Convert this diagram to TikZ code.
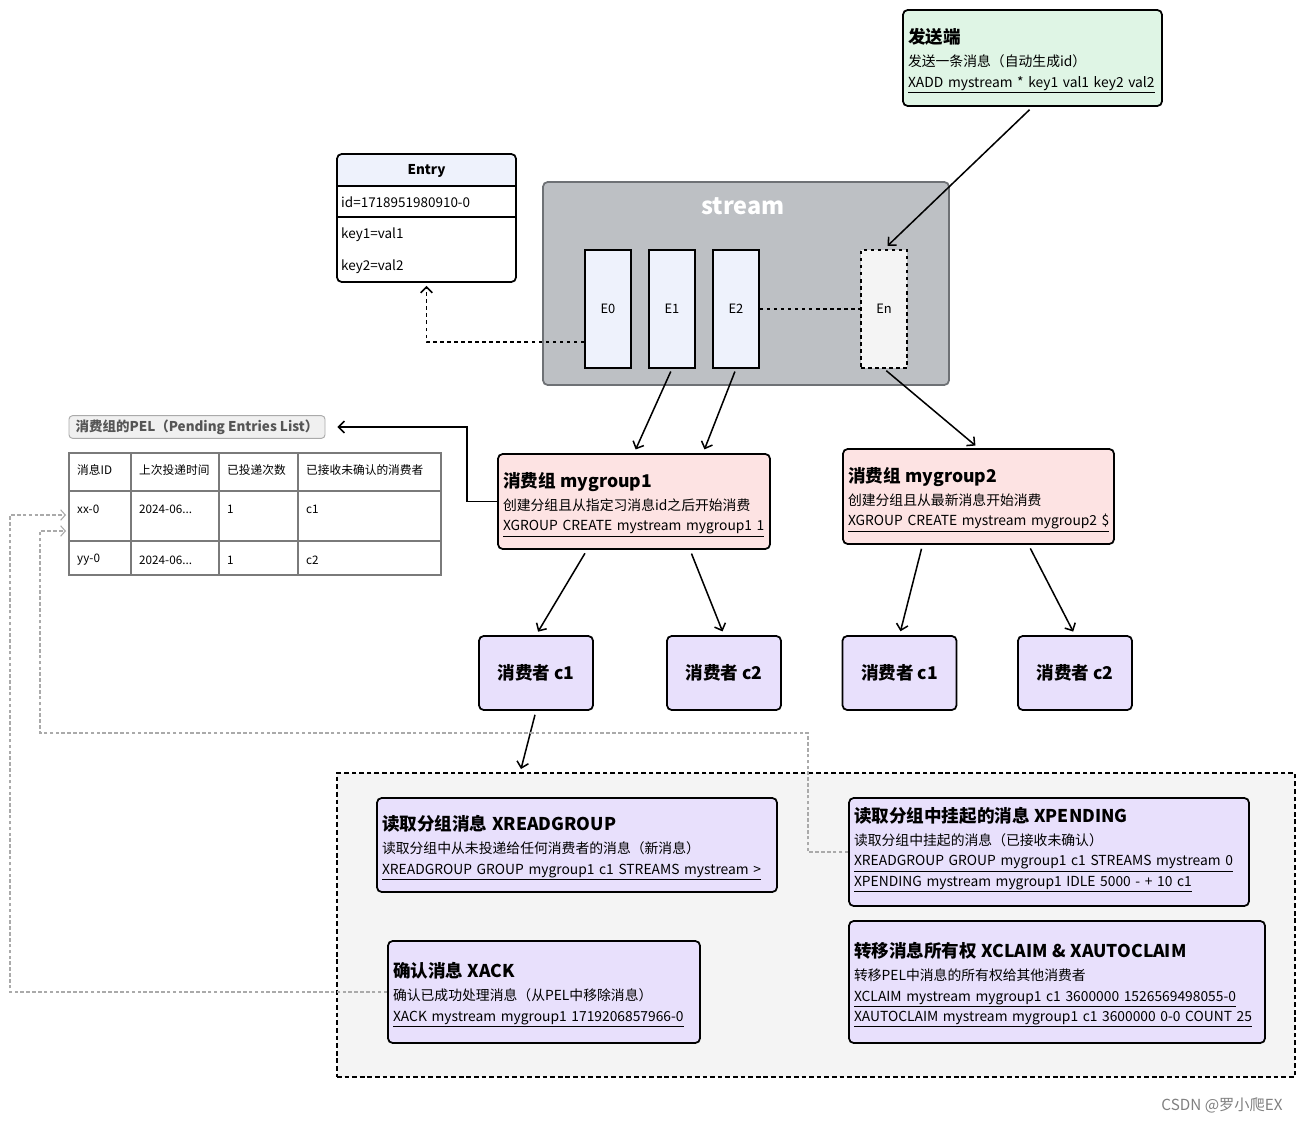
\documentclass[tikz,border=0pt]{standalone}
\usepackage{fontspec}
\setmainfont{Noto Sans CJK SC}
\usetikzlibrary{arrows.meta,positioning}
\newdimen\pxu \pxu=0.03cm
\definecolor{sendgreen}{HTML}{DFF5E5}
\definecolor{entryblue}{HTML}{EEF2FC}
\definecolor{streamgray}{HTML}{BDC0C4}
\definecolor{streamedge}{HTML}{6E7175}
\definecolor{groupred}{HTML}{FDE3E3}
\definecolor{userpurple}{HTML}{E8E0FC}
\definecolor{areagray}{HTML}{F4F4F4}
\definecolor{pelgray}{HTML}{F0F0F0}
\definecolor{peltext}{HTML}{555555}
\definecolor{tablegray}{HTML}{7A7A7A}
\definecolor{linkgray}{HTML}{AAAAAA}
\newcommand\cardtitle[1]{{\bfseries\fontsize{15}{17.5}\selectfont #1}\\[2pt]}
\newcommand\codeline[1]{\smash{\underline{#1}}}
\newcommand\timecut{2024-06.{}.{}.}
\tikzset{
  card/.style={draw, line width=1.5pt, rounded corners=4pt, align=left, inner xsep=5\pxu, inner ysep=0pt,
    font=\fontsize{11.8}{17.5}\selectfont},
  user/.style={draw, line width=1.5pt, rounded corners=4pt, fill=userpurple, minimum width=114\pxu,
    minimum height=74\pxu, font=\bfseries\fontsize{15}{18}\selectfont},
  cell/.style={draw, line width=1.3pt, fill=entryblue, minimum width=46\pxu, minimum height=118\pxu,
    font=\fontsize{11}{13}\selectfont},
  arr/.style={line width=1.3pt, -{Straight Barb[length=5pt, width=10pt]}},
  link/.style={linkgray, line width=0.9pt, dash pattern=on 3pt off 2pt, -{Straight Barb[length=4pt, width=9pt]}},
  tabletext/.style={anchor=west, inner sep=0pt, font=\fontsize{10}{12}\selectfont}
}
\begin{document}
\begin{tikzpicture}[x=0.03cm, y=-0.03cm]
    \fill[white] (0,0) rectangle (1305,1123);
    \useasboundingbox (0,0) rectangle (1305,1123);

    \node[card, fill=sendgreen, minimum width=259\pxu, minimum height=96\pxu, text width=249\pxu] (sender) at (1032.5,58)
      {\cardtitle{发送端}发送一条消息（自动生成id）\\\codeline{XADD mystream * key1 val1 key2 val2}};

    \node[draw, line width=1.5pt, rounded corners=4pt, fill=white, minimum width=179\pxu, minimum height=128\pxu,
      path picture={\fill[entryblue] (path picture bounding box.north west) rectangle ([yshift=-33\pxu]path picture bounding box.north east);}]
      (entry) at (426.5,218) {};
    \draw[line width=1.5pt] ([yshift=-33\pxu]entry.north west) -- ([yshift=-33\pxu]entry.north east);
    \draw[line width=1.5pt] ([yshift=-64\pxu]entry.north west) -- ([yshift=-64\pxu]entry.north east);
    \node[font=\bfseries\fontsize{11.5}{14}\selectfont] (entryhead) at (426.5,171) {Entry};
    \node[anchor=west, inner sep=0pt, font=\fontsize{11.5}{14}\selectfont] (entryid) at (341,202) {id=1718951980910-0};
    \node[anchor=west, inner sep=0pt, font=\fontsize{11.5}{14}\selectfont] (entryk1) at (341,235) {key1=val1};
    \node[anchor=west, inner sep=0pt, font=\fontsize{11.5}{14}\selectfont] (entryk2) at (341,267) {key2=val2};

    \node[draw=streamedge, line width=1.5pt, fill=streamgray, rounded corners=4pt, minimum width=406\pxu,
      minimum height=203\pxu] (stream) at (746,283.5) {};
    \node[text=white, font=\bfseries\fontsize{20}{24}\selectfont] (streamname) at (743,206) {stream};
    \foreach \i/\x in {0/608,1/672,2/736}
      \node[cell] (e\i) at (\x,309) {E\i};
    \node[cell, dashed, fill=areagray] (en) at (884,309) {En};

    \draw[arr, shorten <=4\pxu, shorten >=5\pxu] (sender.south) -- (en.north);
    \draw[arr, dashed, shorten >=3\pxu] ([yshift=-33\pxu]e0.west) -| (entry.south);
    \draw[line width=1.3pt, dashed] (e2.east) -- (en.west);

    \node[draw=linkgray, fill=pelgray, rounded corners=3pt, line width=0.8pt, minimum width=256\pxu,
      minimum height=22\pxu, text=peltext, font=\bfseries\fontsize{11.5}{14}\selectfont] (pel) at (197,427)
      {消费组的PEL（Pending Entries List）};

    \draw[tablegray, line width=1pt] (69,453) rectangle (441,575);
    \foreach \y in {491,541}
      \draw[tablegray, line width=1pt] (69,\y) -- (441,\y);
    \foreach \x in {131,219,298}
      \draw[tablegray, line width=1pt] (\x,453) -- (\x,575);
    \foreach \x/\y/\t [count=\k] in {77/470/消息ID, 139/470/上次投递时间, 227/470/已投递次数, 306/470/已接收未确认的消费者,
        77/509/xx-0, 139/509/\timecut, 227/509/1, 306/509/c1,
        77/560/yy-0, 139/560/\timecut, 227/560/1, 306/560/c2}
      \node[tabletext] (pelcell\k) at (\x,\y) {\t};
    \coordinate (pelin1) at (66,515);
    \coordinate (pelin2) at (66,531);

    \node[card, fill=groupred, minimum width=272\pxu, minimum height=95\pxu, text width=262\pxu] (g1) at (634,501.5)
      {\cardtitle{消费组 mygroup1}创建分组且从指定习消息id之后开始消费\\\codeline{XGROUP CREATE mystream mygroup1 1}};
    \node[card, fill=groupred, minimum width=271\pxu, minimum height=95\pxu, text width=261\pxu] (g2) at (978.5,496.5)
      {\cardtitle{消费组 mygroup2}创建分组且从最新消息开始消费\\\codeline{XGROUP CREATE mystream mygroup2 \$}};

    \draw[arr, shorten <=3\pxu, shorten >=4\pxu] (e1.south) -- (g1.north);
    \draw[arr, shorten <=3\pxu, shorten >=4\pxu] (e2.south) -- ([xshift=69\pxu]g1.north);
    \draw[arr, shorten <=3\pxu, shorten >=4\pxu] (en.south) -- (g2.north);
    \draw[arr, shorten >=12\pxu] (g1.west) -- ++(-30,0) |- (pel.east);

    \foreach \n/\x/\t in {c11/536/c1, c12/724/c2, c21/899.5/c1, c22/1075/c2}
      \node[user] (\n) at (\x,673) {消费者 \t};

    \draw[arr, shorten <=4\pxu, shorten >=4\pxu] ([xshift=-47\pxu]g1.south) -- (c11.north);
    \draw[arr, shorten <=4\pxu, shorten >=4\pxu] ([xshift=56\pxu]g1.south) -- (c12.north);
    \draw[arr, shorten <=4\pxu, shorten >=4\pxu] ([xshift=-56\pxu]g2.south) -- (c21.north);
    \draw[arr, shorten <=4\pxu, shorten >=4\pxu] ([xshift=50\pxu]g2.south) -- (c22.north);

    \node[draw, fill=areagray, line width=1.5pt, dash pattern=on 4pt off 2.5pt, minimum width=958\pxu,
      minimum height=304\pxu] (area) at (816,925) {};
    \coordinate (areain) at (521,769);
    \draw[arr, shorten <=4\pxu] (c11.south) -- (areain);

    \node[card, fill=userpurple, minimum width=400\pxu, minimum height=94\pxu, text width=390\pxu] (xread) at (577,845)
      {\cardtitle{读取分组消息 XREADGROUP}读取分组中从未投递给任何消费者的消息（新消息）\\\codeline{XREADGROUP GROUP mygroup1 c1 STREAMS mystream >}};
    \node[card, fill=userpurple, minimum width=400\pxu, minimum height=108\pxu, text width=390\pxu, text depth=74\pxu] (xpend) at (1049,852)
      {\cardtitle{读取分组中挂起的消息 XPENDING}读取分组中挂起的消息（已接收未确认）\\\codeline{XREADGROUP GROUP mygroup1 c1 STREAMS mystream 0}\\\codeline{XPENDING mystream mygroup1 IDLE 5000 - + 10 c1}};
    \node[card, fill=userpurple, minimum width=312\pxu, minimum height=102\pxu, text width=302\pxu] (xack) at (544,992)
      {\cardtitle{确认消息 XACK}确认已成功处理消息（从PEL中移除消息）\\\codeline{XACK mystream mygroup1 1719206857966-0}};
    \node[card, fill=userpurple, minimum width=416\pxu, minimum height=122\pxu, text width=406\pxu] (xclaim) at (1057,982)
      {\cardtitle{转移消息所有权 XCLAIM \& XAUTOCLAIM}转移PEL中消息的所有权给其他消费者\\\codeline{XCLAIM mystream mygroup1 c1 3600000 1526569498055-0}\\\codeline{XAUTOCLAIM mystream mygroup1 c1 3600000 0-0 COUNT 25}};

    \draw[link] (xpend.west) -| (808,733) -| (40,531) -- (pelin2);
    \draw[link] (xack.west) -| (10,515) -- (pelin1);

    \node[text=gray, font=\fontsize{13}{15}\selectfont] (mark) at (1222,1105) {CSDN @罗小爬EX};
  \end{tikzpicture}
\end{document}
